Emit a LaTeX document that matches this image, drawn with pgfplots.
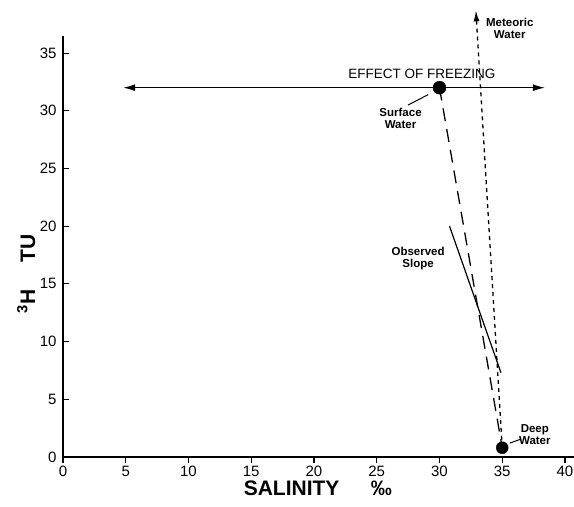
\documentclass[border=0pt]{standalone}
\usepackage{fontspec}
\setmainfont{Liberation Sans}
\usepackage{pgfplots}
\pgfplotsset{compat=1.18}
\usetikzlibrary{arrows.meta}

\newcommand{\smalllab}{\fontsize{11.5}{12}\selectfont\bfseries}

\begin{document}
\begin{tikzpicture}
\begin{axis}[
  x=12.55pt, y=11.54pt,
  xmin=0, xmax=40.7, ymin=0, ymax=36.5,
  axis x line=bottom, axis y line=left,
  axis line style={-, line width=1.2pt},
  xtick={0,5,...,40}, ytick={0,5,...,35},
  tick align=outside, major tick length=6pt,
  tick style={line width=1.1pt, black},
  ytick style={xshift=6pt},
  /pgf/number format/assume math mode=true,
  ticklabel style={font=\fontsize{15}{15}\selectfont},
  yticklabel style={xshift=3pt},
  xlabel={\bfseries SALINITY\hspace{1.5em}‰},
  ylabel={\bfseries \textsuperscript{3}H\hspace{1.3em}TU},
  label style={font=\fontsize{21}{21}\selectfont},
  xlabel style={at={(axis description cs:0.499,-0.074)}, anchor=center},
  ylabel style={at={(axis description cs:-0.072,0.435)}, anchor=center},
  clip=false,
]
% effect of freezing: horizontal double arrow through surface water
\addplot[line width=1.2pt, {Latex[length=12pt,width=7pt]}-{Latex[length=12pt,width=7pt]}]
  coordinates {(4.8,32) (38.4,32)};
% mixing line surface -> deep water
\addplot[line width=1.3pt, dash pattern=on 13pt off 8pt]
  coordinates {(30,32) (35,0.8)};
% meteoric water trend
\addplot[line width=1.3pt, dash pattern=on 4pt off 4pt, -{Latex[length=11pt,width=6pt]}]
  coordinates {(35,0.8) (32.9,38.7)};
% observed slope
\addplot[line width=1.2pt] coordinates {(30.8,20.0) (34.9,7.3)};
% leader lines
\addplot[line width=1pt] coordinates {(27.5,30.5) (29.1,31.4)};
\addplot[line width=1pt] coordinates {(35.6,1.2) (36.5,1.55)};
% end members
\addplot[only marks, mark=*, mark size=6.5pt, black] coordinates {(30,32)};
\addplot[only marks, mark=*, mark size=6pt, black] coordinates {(35,0.8)};

\node[anchor=south, font=\fontsize{13.5}{13.5}\selectfont] at (axis cs:28.6,32.5) {EFFECT OF FREEZING};
\node[align=center, font=\smalllab] at (axis cs:35.6,37.1) {Meteoric\\Water};
\node[align=center, font=\smalllab] at (axis cs:26.9,29.3) {Surface\\Water};
\node[align=center, font=\smalllab] at (axis cs:28.3,17.2) {Observed\\Slope};
\node[align=center, font=\smalllab] at (axis cs:37.6,1.9) {Deep\\Water};

\coordinate (bbl) at (axis cs:-5.02,-4.33);
\coordinate (btr) at (axis cs:40.72,39.6);
\end{axis}
\pgfresetboundingbox
\path (bbl) rectangle (btr);
\end{tikzpicture}
\end{document}
